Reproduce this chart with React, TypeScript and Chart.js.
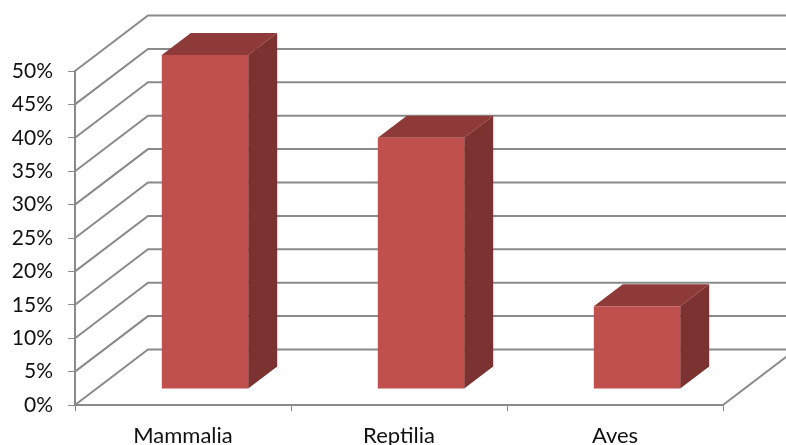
import React, { useEffect, useRef } from "react";
import { Chart, registerables, Plugin } from "chart.js";

Chart.register(...registerables);

const categories = ["Mammalia", "Reptilia", "Aves"];
const shares = [0.5, 0.376, 0.124];
const axisMax = 0.5;
const axisStep = 0.05;

const FRONT = "#C0504D";
const SIDE = "#7C3230";
const TOP = "#8E3A39";
const LINE = "#8A8A8A";
const FONT = "Lato";

// Oblique projection offsets for the floor depth, and for the bars sitting on it.
const WALL = { dx: 73, dy: -55.5 };
const BAR_INSET = { dx: 22, dy: -16 };
const BAR_DEPTH = { dx: 29, dy: -22 };

const walls: Plugin<"bar"> = {
  id: "walls",
  beforeDatasetsDraw(chart) {
    const { ctx, chartArea, scales } = chart;
    const y = scales.y;
    ctx.save();
    ctx.strokeStyle = LINE;
    ctx.lineCap = "butt";
    for (const tick of y.ticks) {
      const py = y.getPixelForValue(tick.value);
      const bx = chartArea.left + WALL.dx;
      const by = py + WALL.dy;
      ctx.lineWidth = 2;
      ctx.beginPath();
      ctx.moveTo(chartArea.left, py);
      ctx.lineTo(bx, by);
      ctx.lineTo(chartArea.right + WALL.dx, by);
      ctx.stroke();
    }
    // Right edge of the floor.
    const base = y.getPixelForValue(0);
    ctx.lineWidth = 2;
    ctx.beginPath();
    ctx.moveTo(chartArea.right, base);
    ctx.lineTo(chartArea.right + WALL.dx, base + WALL.dy);
    ctx.stroke();
    ctx.restore();
  },
};

const bars3d: Plugin<"bar"> = {
  id: "bars3d",
  beforeDatasetDraw(chart, args) {
    const { ctx } = chart;
    ctx.save();
    ctx.translate(BAR_INSET.dx, BAR_INSET.dy);
    for (const el of args.meta.data as any[]) {
      const { x, y, base, width } = el.getProps(["x", "y", "base", "width"], true);
      const l = x - width / 2;
      const r = x + width / 2;
      const { dx, dy } = BAR_DEPTH;
      ctx.fillStyle = TOP;
      ctx.beginPath();
      ctx.moveTo(l, y);
      ctx.lineTo(l + dx, y + dy);
      ctx.lineTo(r + dx, y + dy);
      ctx.lineTo(r, y);
      ctx.closePath();
      ctx.fill();
      ctx.fillStyle = SIDE;
      ctx.beginPath();
      ctx.moveTo(r, y);
      ctx.lineTo(r + dx, y + dy);
      ctx.lineTo(r + dx, base + dy);
      ctx.lineTo(r, base);
      ctx.closePath();
      ctx.fill();
    }
  },
  afterDatasetDraw(chart) {
    chart.ctx.restore();
  },
};

export default function App() {
  const ref = useRef<HTMLCanvasElement>(null);
  useEffect(() => {
    const chart = new Chart(ref.current!, {
      type: "bar",
      data: {
        labels: categories,
        datasets: [
          {
            data: shares,
            backgroundColor: FRONT,
            barPercentage: 0.4,
            categoryPercentage: 1,
            clip: false as any,
          },
        ],
      },
      plugins: [walls, bars3d],
      options: {
        responsive: false,
        animation: false,
        layout: { padding: { top: 71, right: 63, bottom: 0, left: 0 } },
        plugins: { legend: { display: false }, tooltip: { enabled: false } },
        scales: {
          x: {
            afterFit: (s: any) => {
              s.height = 40;
            },
            grid: { drawOnChartArea: false, color: LINE, tickLength: 6, offset: true },
            border: { color: LINE, width: 2 },
            ticks: {
              color: "#111111",
              font: { family: FONT, size: 22 },
              padding: 12,
              maxRotation: 0,
            },
          },
          y: {
            min: 0,
            max: axisMax,
            afterFit: (s: any) => {
              s.width = 75;
            },
            grid: { drawOnChartArea: false, color: LINE, tickLength: 7 },
            border: { color: LINE, width: 2 },
            ticks: {
              stepSize: axisStep,
              color: "#111111",
              font: { family: FONT, size: 21 },
              padding: 15,
              callback: (v: any) => `${Math.round(Number(v) * 100)}%`,
            },
          },
        },
      },
    });
    return () => chart.destroy();
  }, []);
  return (
    <canvas
      ref={ref}
      width={786}
      height={445}
      style={{ position: "absolute", left: 0, top: 0, display: "block" }}
    />
  );
}
